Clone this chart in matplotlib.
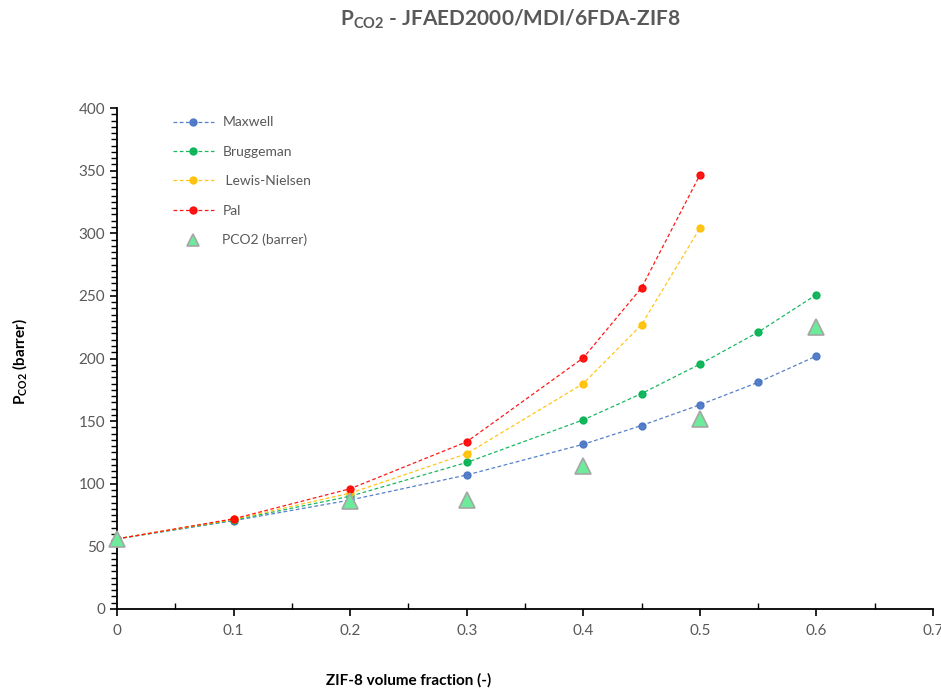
import matplotlib.pyplot as plt
from matplotlib.ticker import MultipleLocator

# permeability models vs ZIF-8 loading
phi = [0, 0.1, 0.2, 0.3, 0.4, 0.45, 0.5, 0.55, 0.6]
maxwell = [56, 70.5, 87, 107, 131.5, 146.5, 163, 181, 202]
bruggeman = [56, 71, 90, 117, 151, 172, 195.5, 221, 251]

phi_short = [0, 0.1, 0.2, 0.3, 0.4, 0.45, 0.5]
lewis_nielsen = [56, 71.5, 92.5, 124, 180, 227, 304]
pal = [56, 72, 96, 133.5, 200.5, 256.5, 346.5]

# measured values
phi_exp = [0, 0.2, 0.3, 0.4, 0.5, 0.6]
pco2_exp = [56, 86, 87, 114, 152, 225]

plt.rcParams['font.family'] = ['Lato', 'DejaVu Sans']
plt.rcParams['mathtext.fontset'] = 'custom'
plt.rcParams['mathtext.rm'] = 'Lato'
plt.rcParams['mathtext.bf'] = 'Lato:bold'

fig = plt.figure(figsize=(9.41, 6.92), dpi=100)
ax = fig.add_axes([117 / 941, 1 - 609 / 692, 816 / 941, 501 / 692])

ax.plot(phi, maxwell, ls='--', lw=0.9, color='#4472C4', alpha=0.9,
        marker='o', ms=5, mfc='#4472C4', mec='#4472C4', dashes=(3, 2), label='Maxwell')
ax.plot(phi, bruggeman, ls='--', lw=0.9, color='#00B050', alpha=0.9,
        marker='o', ms=5, mfc='#00B050', mec='#00B050', dashes=(3, 2), label='Bruggeman')
ax.plot(phi_short, lewis_nielsen, ls='--', lw=0.9, color='#FFC000', alpha=0.9,
        marker='o', ms=5, mfc='#FFC000', mec='#FFC000', dashes=(3, 2), label=' Lewis-Nielsen')
ax.plot(phi_short, pal, ls='--', lw=0.9, color='#FF0000', alpha=0.9,
        marker='o', ms=5, mfc='#FF0000', mec='#FF0000', dashes=(3, 2), label='Pal')
ax.plot(phi_exp, pco2_exp, ls='none', marker='^', ms=12, mfc='#6CEB9A',
        mec='#A6A6A6', mew=1.2, label='PCO2 (barrer)', zorder=5, clip_on=False)

ax.set_xlim(0, 0.7)
ax.set_ylim(0, 400)
ax.xaxis.set_minor_locator(MultipleLocator(0.05))
ax.yaxis.set_major_locator(MultipleLocator(50))
ax.yaxis.set_minor_locator(MultipleLocator(5))
ax.set_xticks([0, 0.1, 0.2, 0.3, 0.4, 0.5, 0.6, 0.7])
ax.set_xticklabels(['0', '0.1', '0.2', '0.3', '0.4', '0.5', '0.6', '0.7'])

for side in ['top', 'right']:
    ax.spines[side].set_visible(False)
for side in ['left', 'bottom']:
    ax.spines[side].set_linewidth(1.3)
    ax.spines[side].set_color('black')

ax.tick_params(axis='both', which='major', labelsize=11, labelcolor='#595959',
               length=5, width=1.2, direction='out')
ax.tick_params(axis='y', which='minor', length=4, width=1.0, direction='out')
ax.tick_params(axis='x', which='minor', length=4, width=1.0, direction='in')
ax.tick_params(axis='x', which='major', pad=6)

leg = ax.legend(loc='upper left', bbox_to_anchor=(160 / 941, 1 - 104 / 692),
                bbox_transform=fig.transFigure, frameon=False, fontsize=10,
                handlelength=3.0, labelspacing=1.25, handletextpad=0.6,
                labelcolor='#595959')
leg.legend_handles[4].set_markersize(8)

fig.text(0.542, 0.972, r'P$_{\mathbf{CO2}}$ - JFAED2000/MDI/6FDA-ZIF8', ha='center',
         va='center', fontsize=15, fontweight='bold', color='#595959')
fig.text(0.022, 0.477, r'P$_{\mathbf{CO2}}$ (barrer)', rotation=90, ha='center',
         va='center', fontsize=11, fontweight='bold', color='black')
fig.text(0.434, 0.017, 'ZIF-8 volume fraction (-)', ha='center', va='center',
         fontsize=11, fontweight='bold', color='black')

fig.savefig('out.png', dpi=100)
